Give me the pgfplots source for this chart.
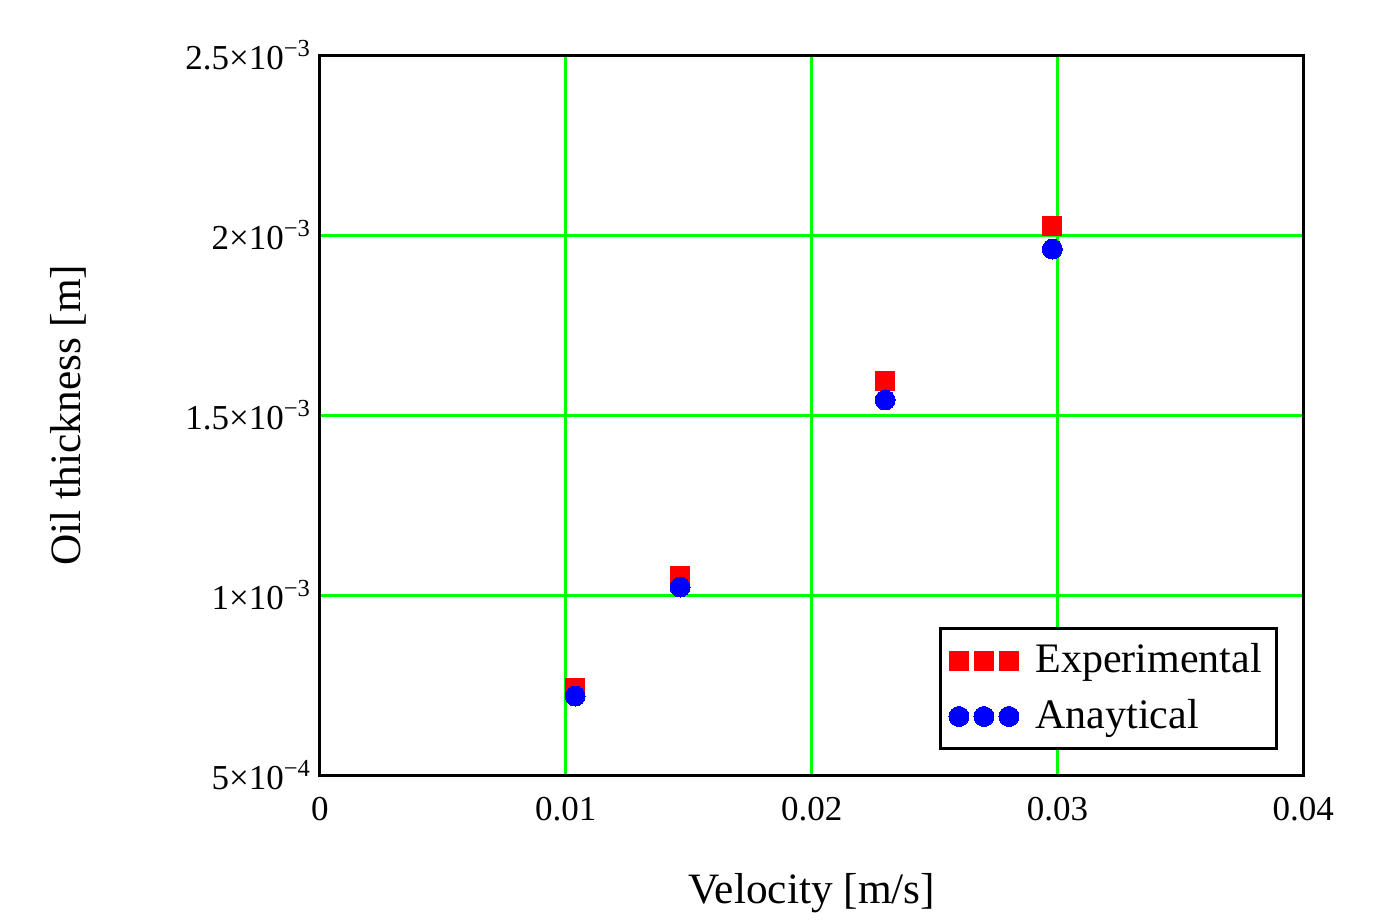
\documentclass[border=0pt]{standalone}
\usepackage{fontspec}
\setmainfont{Liberation Serif}
\usepackage{pgfplots}
\pgfplotsset{compat=1.18}

\definecolor{gridgreen}{RGB}{0,255,0}

\begin{document}
\begin{tikzpicture}
\begin{axis}[
  scale only axis,
  width=295pt, height=216pt,
  xmin=0, xmax=0.04, ymin=0.5e-3, ymax=2.5e-3,
  scaled ticks=false,
  xtick={0,0.01,0.02,0.03,0.04},
  xticklabels={0,0.01,0.02,0.03,0.04},
  ytick={0.5e-3,1e-3,1.5e-3,2e-3,2.5e-3},
  yticklabels={5×10\textsuperscript{−4},1×10\textsuperscript{−3},1.5×10\textsuperscript{−3},2×10\textsuperscript{−3},2.5×10\textsuperscript{−3}},
  major tick length=0pt,
  grid=major,
  major grid style={gridgreen, line width=0.9pt},
  axis line style={black, line width=0.9pt},
  tick label style={font=\fontsize{10.5}{12}\selectfont},
  xticklabel style={yshift=-3pt},
  yticklabel style={xshift=1pt},
  every axis x label/.style={at={(axis description cs:0.5,0)}, yshift=-35.4pt, anchor=center},
  every axis y label/.style={at={(axis description cs:0,0.5)}, xshift=-75.6pt, rotate=90, anchor=center},
  label style={font=\fontsize{13}{15}\selectfont},
  xlabel={Velocity [m/s]},
  ylabel={Oil thickness [m]},
  legend style={at={(axis description cs:0.9746,0.0347)}, anchor=south east,
    draw=black, line width=0.9pt, font=\fontsize{12.6}{15}\selectfont,
    inner sep=2.5pt, row sep=2.5pt},
  legend cell align=left,
  legend image code/.code={\draw[#1, line width=0pt] plot coordinates {(0pt,0pt) (7.5pt,0pt) (15pt,0pt)};\path (21pt,0pt);},
]
\addplot[only marks, mark=square*, mark size=2.85pt, draw=none, mark options={draw=red, fill=red, line width=0pt}] coordinates {
  (0.01038,0.7417e-3) (0.01465,1.0528e-3) (0.02299,1.5944e-3) (0.02979,2.025e-3)
};
\addlegendentry{Experimental}
\addplot[only marks, mark=*, mark size=3pt, draw=none, mark options={draw=blue, fill=blue, line width=0pt}] coordinates {
  (0.01038,0.7194e-3) (0.01465,1.0222e-3) (0.02299,1.5417e-3) (0.02979,1.961e-3)
};
\addlegendentry{Anaytical}
\end{axis}
\path (current axis.south west) ++(-96pt,-42.9pt) rectangle ++(414pt,275.4pt);
\end{tikzpicture}
\end{document}
